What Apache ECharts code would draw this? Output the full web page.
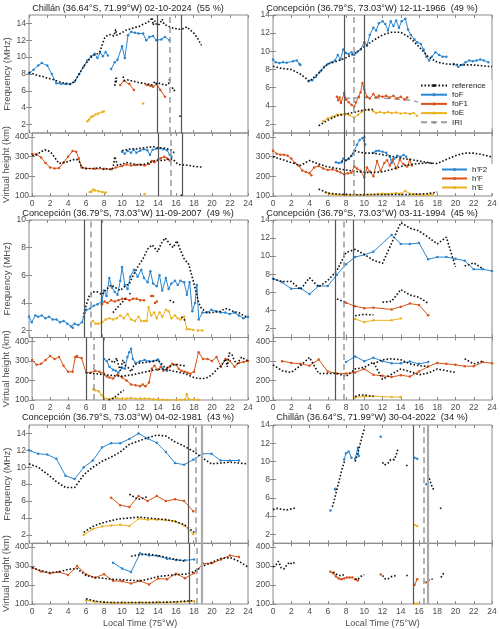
<!DOCTYPE html>
<html><head><meta charset="utf-8">
<script src="https://cdn.jsdelivr.net/npm/echarts@6/dist/echarts.min.js"></script>
<style>html,body{margin:0;padding:0;background:#fff}#c{width:500px;height:629px}</style>
</head><body><div id="c"></div>
<script>
const _ = null; // gap marker
// ---------- shared axis tick labels ----------
const hourTicks = [0,2,4,6,8,10,12,14,16,18,20,22,24];
const freqTicks = [2,4,6,8,10,12,14];
const freqTicks07 = [2,4,6,8,10];
const heightTicks = [100,200,300,400];

// ---------- Panel 1: Chillán 02-10-2024 ----------
const p1Title = 'Chillán (36.64°S, 71.99°W) 02-10-2024  (55 %)';
const p1Events = [14.0, 15.4, 16.7];
const p1Ref = [[0,8.2],[0.5,8.0],[1,7.8],[1.5,7.7],[2,7.5],[2.5,7.4],[3,7.2],[3.5,7.0],[4,6.9],[4.5,6.8],[5,7.1],[5.5,8.0],[6,8.9],[6.5,9.6],[7,10.2],[7.5,10.4],[7.8,10.7],[8.0,11.4],[8.3,12.3],[8.6,12.6],[9.0,12.7],[9.3,12.5],[9.5,13.3],[9.6,12.6],[9.8,12.7],[10.2,12.9],[10.6,13.2],[11,13.3],[11.5,13.5],[12,13.6],[12.5,13.9],[13,14.1],[13.3,14.4],[13.5,14.7],[13.6,13.8],[13.8,14.3],[14.0,13.8],[14.3,13.9],[14.6,14.5],[14.8,13.9],[15.2,13.7],[15.6,13.5],[16,13.4],[16.5,13.3],[17.0,13.4],[17.3,13.6],[17.7,13.2],[18.1,12.8],[18.5,12.2],[18.9,11.4]];
const p1RefF1 = [[9.4,6.6],[9.5,7.5],[9.55,6.9],[9.6,7.6],_,[10.3,7.7],[10.5,7.2],[10.8,7.3],[11.2,7.2],[11.6,7.1],[12,7.0],[12.5,6.9],[13,6.8],[13.5,6.7],[13.8,7.1],[14,6.8],[14.3,6.9],[14.6,6.8],[15,6.7],[15.3,6.8],[15.4,7.4],_,[15.7,6.4],[15.9,6.0],[16.0,6.2],_,[16.55,3.1],[16.6,2.8]];
const p1FoF = [[0,8.1],[0.5,8.5],[1,9.0],[1.4,9.3],[2,9.0],[2.5,8.0],[3,6.9],[3.5,6.85],[4,6.8],[4.5,6.8],[5,7.1],[5.5,8.0],[6,8.9],[6.4,9.6],[6.8,10.1],[7.2,10.4],[7.5,9.9],[7.8,10.5],[8.1,10.1],[8.4,10.6],[8.65,10.2],_,[9.0,8.6],[9.4,9.4],[9.7,9.7],[10.2,11.3],[10.5,9.9],[10.85,12.6],[11.2,13.0],[11.6,12.9],[12,12.8],[12.5,12.8],[12.85,12.0],[13.2,12.4],[13.6,12.5],[13.95,12.0],[14.5,12.1],[14.9,12.4],[15.4,12.0]];
const p1FoF1 = [[10.0,6.7],[10.4,7.2],[11.0,6.8],[11.5,6.1],_,[12.9,6.7],[13.3,6.6],[13.6,6.5],[14.0,6.8],[14.4,6.1],[14.9,5.3]];
const p1FoE = [[6.4,2.4],[6.6,2.6],[6.8,2.9],[7.0,3.0],[7.3,3.2],[7.6,3.3],[8.0,3.5],[8.2,3.55],_,[12.5,4.5]];
const p1RefH = [[0,305],[0.5,310],[1,325],[1.4,335],[1.8,330],[2.2,315],[2.6,290],[3,265],[3.5,270],[4,275],[4.5,285],[5.0,285],[5.3,270],[5.5,245],[6,240],[7,240],[7.5,245],[8,235],[8.5,240],[8.8,232],[9.0,245],[9.2,300],[9.3,290],[9.5,255],[10,262],[10.5,270],[11,265],[11.5,260],[12,258],[12.5,262],[13,268],[13.5,278],[14,282],[14.5,280],[15,285],[15.4,290],[15.7,285],[16,270],[16.3,260],[16.6,258],[17,258],[17.5,255],[18,250],[18.5,248],[18.9,247],_,[16.6,100],[16.65,115]];
const p1RefHF2 = [[10,330],[10.5,335],[11,340],[11.5,338],[12,342],[12.5,345],[13,348],[13.5,350],[14,345],[14.5,345],[15,340],[15.4,335],[15.8,320],[16,315]];
const p1HF2 = [[10,325],[10.3,315],[10.6,330],[11,320],[11.3,335],[11.6,320],[12,330],[12.4,338],[12.8,333],[13.1,310],[13.4,335],[13.8,340],[14.2,342],[14.6,338],[15,333],[15.3,310],[15.5,300]];
const p1HF = [[0,313],[0.5,312],[1,295],[1.5,268],[2,245],[2.5,240],[3,242],[3.5,270],[4,300],[4.5,328],[4.9,325],[5.2,290],[5.5,245],[6,240],[7,238],[8,238],[8.8,236],[9.3,245],[10,252],[10.5,260],[11,255],[11.5,258],[12,260],[12.5,255],[13,262],[13.3,278],[13.6,272],[14,284],[14.3,292],[14.7,300],[15,290],[15.3,280]];
const p1HE = [[6.4,120],[6.6,122],[6.8,133],[7.0,128],[7.4,124],[7.8,120],[8.2,118],_,[12.5,110]];

// ---------- Panel 2: Concepción 12-11-1966 ----------
const p2Title = 'Concepción (36.79°S, 73.03°W) 12-11-1966  (49 %)';
const p2Events = [7.8, 8.9, 10.0];
const p2Ref = [[0,8.35],[1,8.1],[2,8.0],[3,7.5],[4,6.7],[5,7.6],[6,8.6],[7,8.9],[8,9.3],[9,9.8],[10,10.5],[11,11.2],[12,11.8],[13,12.1],[14,12.1],[15,11.5],[16,10.5],[17,9.4],[18,8.8],[19,8.6],[20,8.55],[21,8.5],[22,8.5],[23,8.4],[24,8.3]];
const p2RefE = [[5,1.8],[6,2.4],[7,2.9],[8,3.1],[9,3.3],[10,3.55],[11,3.6]];
const p2Iri = [[7.8,4.8],[9,4.85],[10,4.9],[11,4.9],[12,4.85],[13,4.8],[14,4.7],[15,4.6],[16,4.4],[16.5,4.3]];
const p2FoF = [[0,9.1],[0.3,8.8],[0.7,8.7],[1.1,8.8],[1.5,8.75],[2.2,8.9],[2.6,9.0],[2.9,8.6],[3.0,8.5],_,[3.9,6.7],[4.3,6.8],[4.7,7.2],[5.2,7.8],[5.6,8.3],[6,8.6],[6.4,8.8],[6.8,9.0],[7.1,9.6],[7.4,9.1],[7.7,10.2],[8.0,9.8],[8.3,9.7],[8.6,9.9],[8.9,9.6],[9.2,9.9],[9.6,10.2],[10,11.0],[10.3,10.6],[10.6,11.8],[11,12.6],[11.3,12.3],[11.6,13.1],[12,13.3],[12.3,13.0],[12.6,12.3],[12.9,13.3],[13.2,12.8],[13.5,13.4],[13.8,12.6],[14.1,13.3],[14.5,13.6],[14.8,12.4],[15.1,11.8],[15.5,11.3],[15.8,11.0],[16.2,10.8],[16.5,10.2],[16.8,9.4],[17.1,9.0],[17.4,9.4],[17.8,9.9],[18.2,9.6],[18.6,9.4],[19,9.4],_,[19.8,8.6],[20.3,8.3],[20.7,8.5],[21.1,8.8],[21.5,9.0],[21.9,8.9],[22.3,9.0],[22.7,9.1],[23.1,9.0],[23.6,8.8]];
const p2FoF1 = [[7.0,5.0],[7.15,4.6],[7.3,4.9],[7.45,4.3],[7.8,5.4],[8.0,4.7],[8.3,4.4],[8.6,4.1],[8.9,3.9],[9.1,4.4],[9.4,5.0],[9.6,5.5],[9.8,6.5],[10.0,5.8],[10.3,5.0],[10.6,4.8],[11.0,5.3],[11.3,4.9],[11.6,5.1],[12,5.0],[12.4,5.1],[12.8,4.9],[13.2,5.1],[13.6,4.8],[14,5.0],[14.4,4.7],[14.7,4.9]];
const p2FoE = [[5.5,2.3],[6,2.6],[6.5,2.8],[7,3.0],[7.5,3.05],[8,3.1],[8.4,2.95],[8.9,2.7],[9.3,3.0],[9.7,3.3],[10,3.5],[10.5,3.55],_,[11,3.4],[11.3,3.2],[11.7,3.3],[12.2,3.2],[12.6,3.3],[13,3.2],[13.5,3.25],[14,3.15],[14.5,3.2],[15,3.1],[15.4,3.2],[15.8,2.9],[16.2,2.6],[16.6,2.5],[17,2.2],[17.4,2.1],[17.8,1.9]];
const p2RefH = [[0,300],[1,285],[2,270],[3,255],[4,280],[5,262],[6,248],[7,240],[8,232],[9,225],[10,220],[11,220],[12,222],[13,235],[14,250],[15,260],[16,265],[17,268],[18,265],[19,285],[20,305],[21,318],[22,318],[23,310],[24,298]];
const p2RefHF2 = [[7.5,275],[8,282],[8.5,300],[9,330],[9.5,322],[10,318],[11,318],[12,310],[13,302],[14,292],[15,285],[16,278],[17,270],[17.5,265]];
const p2RefHE = [[5,135],[6,115],[7,110],[8,108],[9,106],[10,107],[11,108],[12,108],[13,108],[14,108],[15,108],[16,110],[17,112],[18,120]];
const p2HF2 = [[6.9,272],[7.2,268],[7.5,270],[7.7,290],[8.0,282],[8.3,288],[8.6,305],[8.9,330],[9.2,360],[9.5,385],[9.8,395],[10.0,398],[10.1,362],_,[11,320],[11.3,328],[11.6,330],[12,325],[12.4,320],[12.8,300],[13.0,268],[13.3,290],[13.6,305],[14,300],[14.3,308],[14.6,300]];
const p2HF = [[0,330],[0.4,315],[0.8,310],[1.2,310],[1.6,305],[2,290],[2.4,268],[2.8,255],[3.2,230],[3.6,222],[4,215],[4.2,205],[4.5,245],[5,252],[5.5,240],[6,232],[6.5,235],[7,228],[7.4,220],[7.8,210],[8.2,215],[8.6,218],[8.9,250],[9.2,240],[9.6,228],[10,195],[10.3,245],[10.6,225],[11,200],[11.4,278],[11.8,228],[12.2,268],[12.5,282],[12.8,255],[13.1,285],[13.5,240],[13.9,283],[14.3,262],[14.7,250],[15,285],[15.2,255]];
const p2HE = [[5.8,118],[6.2,110],[6.6,108],[7,106],[7.5,105],[8,106],[8.5,104],[9,106],[9.5,105],[10,106],[10.5,105],_,[11,108],[11.5,110],[12,112],[12.5,110],[13,112],[13.5,115],[14,112],[14.5,125],[15,112],[15.5,108],[16,106],[16.5,105],[17,106],[17.5,108]];

// ---------- Panel 3: Concepción 11-09-2007 ----------
const p3Title = 'Concepción (36.79°S, 73.03°W) 11-09-2007  (49 %)';
const p3Events = [6.0, 6.8, 7.9];
const p3Ref = [[6.0,3.2],[6.3,3.9],[6.6,4.5],[7.0,4.8],[7.5,4.8],[8.0,4.6],[8.5,5.0],[9,5.3],[9.5,5.1],[10,4.9],[10.5,5.2],[11,5.4],[11.5,6.1],[12,6.7],[12.5,7.2],[13,7.9],[13.5,8.2],[14.1,7.7],[14.5,8.3],[14.9,8.7],[15.5,8.2],[15.8,8.0],[16.2,8.5],[16.6,7.8],[17.0,7.2],[17.5,6.8],[18.0,5.6],[18.3,4.8],[18.6,4.0],[18.9,3.6],[19.5,3.3],[20,3.3],[21,3.4],[21.5,3.6],[22,3.5],[22.5,3.35],[23,3.3],[23.5,3.1],[24,2.95]];
const p3Ref2 = [[9.2,3.3],[9.6,3.6],[10,3.9],[10.4,4.2],[10.7,4.4],_,[11.0,4.7],[11.2,4.6],_,[15.4,4.2],[15.7,4.1],[16.0,4.0],_,[16.7,3.0],[17.0,2.8],[17.2,2.7]];
const p3FoF = [[0,3.0],[0.3,2.6],[0.7,3.1],[1.0,3.0],[1.4,3.1],[1.8,2.9],[2.2,3.0],[2.6,2.8],[3.0,2.8],[3.4,2.6],[3.8,2.7],[4.2,2.5],[4.6,2.3],[4.8,2.2],[5.0,2.5],[5.4,2.4],[5.8,2.6],[6.0,3.0],[6.3,3.5],[6.7,3.6],[7.1,3.8],[7.5,3.9],[8.0,4.1],[8.2,4.9],[8.5,4.5],[8.8,5.8],[9.1,5.1],[9.4,4.8],[9.7,4.6],[10,5.6],[10.2,6.6],[10.5,5.3],[10.8,5.0],[11.1,5.9],[11.5,6.4],[11.9,5.9],[12.3,6.4],[12.6,5.8],[13,5.5],[13.3,6.3],[13.6,5.4],[14,5.2],[14.3,6.0],[14.6,4.9],[15,5.8],[15.3,5.0],[15.6,5.4],[16,5.6],[16.3,5.3],[16.6,5.6],[17,5.5],[17.3,4.6],[17.6,5.5],[17.9,3.4],[18.2,4.0],[18.4,5.3],[18.6,2.8],[19,3.3],[19.5,3.3],[20,3.5],[20.5,3.4],[21,3.3],[21.5,3.3],[22,3.2],[22.5,3.3],[23,3.1],[23.5,2.9],[24,3.0]];
const p3FoF1 = [[8,3.9],[8.3,4.1],[8.6,4.0],[9,4.2],[9.4,4.1],[9.8,4.2],[10.2,4.3],[10.6,4.3],[11,4.2],[11.4,4.3],[11.8,4.3],[12.2,4.2],[12.6,4.2],_,[13.4,4.5],[13.6,4.5],_,[13.8,4.0],[14.0,4.1]];
const p3FoE = [[7,2.7],[7.3,2.5],[7.6,2.5],[8,2.6],[8.4,2.8],[8.8,2.9],[9.2,2.8],[9.6,2.9],[10,3.1],[10.4,2.9],[10.8,3.2],[11.2,2.8],[11.6,2.7],[12,3.0],[12.3,2.7],_,[12.6,2.7],[12.9,2.7],[13.1,3.7],[13.4,3.1],[13.7,3.3],[14,2.9],[14.3,3.3],[14.6,3.0],[15,3.5],[15.3,3.4],[15.6,2.9],[16,3.1],[16.3,2.9],[16.6,2.8],[17,3.0],[17.3,2.1],[17.6,2.1],[18,2.05],_,[18.5,2.0],[19,2.0]];
const p3RefH = [[6,240],[7,235],[8,230],[9,225],[10,222],[11,228],[12,238],[13,248],[14,258],[15,255],[16,245],[17,235],[18,215],[18.5,210],[19,210],[19.5,215],[20,230],[20.5,255],[21,275],[21.5,310],[21.7,270],[21.9,340],[22.2,335],[22.5,300],[22.8,285],[23,300],[23.3,320],[23.6,310],[24,300]];
const p3RefH2 = [[8.5,310],[8.8,300],[9.1,290],[9.4,315],[9.6,280],[9.8,250],[10.1,305],[10.4,275],[10.7,265],[11,245],[11.3,275],[11.6,285],[12,290],[12.5,292],[13,295],[13.5,298],[14,305],[14.3,290],[14.7,270],[15,265],[15.5,278],[16,282],[16.5,278],[17,275]];
const p3RefHE = [[8.5,100],[9,108],[9.5,125],[10,145],[10.2,150]];
const p3HF2 = [[8.0,310],[8.3,300],[8.6,270],[9,255],[9.3,250],[9.6,240],[10,265],[10.3,260],[10.6,320],[10.8,345],[11,362],[11.2,310],[11.5,290],[12,298],[12.5,305],[13,298],[13.5,300],[14,308],[14.5,262],[15,250]];
const p3HF = [[0,305],[0.5,280],[1,285],[1.5,305],[2,325],[2.5,310],[3,320],[3.5,275],[4,245],[4.5,245],[4.8,320],[5,325],[5.5,315],[6,240],[6.5,240],[7,250],[7.5,245],[8,235],[8.3,220],[8.6,215],[9,210],[9.5,230],[10,215],[10.5,200],[11,180],[11.5,175],[12,170],[12.3,180],[12.6,170],[13,190],[13.3,260],[13.6,275],[14,255],[14.3,270],[14.6,250],[15,260],[15.3,270],[15.6,285],[16,280],[16.3,260],[16.6,250],[17,245],[17.3,240],[17.6,235],[18,245],[18.5,345],[19,310],[19.5,310],[20,300],[20.5,320],[21,270],[21.5,310],[22,300],[22.5,270],[23,290],[23.5,295],[24,300]];
const p3HE = [[6.8,155],[7.0,150],[7.4,145],[7.7,125],[8,110],[8.5,105],[9,110],[9.5,108],[10,105],[10.5,108],[11,110],[11.5,107],[12,105],[12.5,108],[13,106],[13.5,104],[14,102],[14.5,101],[15,100],[16,100],[16.5,101],[17,102],[17.2,130],[17.4,105],[18,102],[18.5,101]];

// ---------- Panel 4: Concepción 03-11-1994 ----------
const p4Title = 'Concepción (36.79°S, 73.03°W) 03-11-1994  (45 %)';
const p4Events = [6.8, 7.8, 8.8];
const p4Ref = [[0,7.5],[1,7.2],[2,7.2],[3,6.3],[4,7.6],[5,6.6],[6,7.3],[7,8.4],[8,10.4],[9,10.75],[10,10.2],[11,9.55],[12,9.2],[14,13.7],[15,13.1],[16,12.8],[17,12.1],[18,11.35],[19,12.1],[20,8.8],_,[21,8.9],[22,9.25],[23,8.6]];
const p4RefF1 = [[7,5.25],[8,4.9],_,[12,4.9],[13,5.0],[14,6.3],[15,5.7],[16,5.45],[17,4.8]];
const p4RefE = [[9,3.4],[10,3.55],[11,3.5]];
const p4FoF = [[0,7.5],[1,7.1],[2,6.4],[3,6.45],[4,5.8],[5,6.7],[6,6.7],[7,7.95],[8,9.1],[9,9.9],[10,10.15],[11,10.5],[13,12.35],[14,11.35],[15,11.35],[16,11.45],[17,9.65],[18,9.9],[19,9.9],[20,9.7],[21,9.5],[22,8.55],[23,8.55],[24,8.35]];
const p4FoF1 = [[8,4.85],[9,4.45],[10,4.25],[11,4.3],[13,4.1],[14,4.4],[15,4.75],[16,4.6],[17,3.45]];
const p4FoE = [[9,3.05],[10,2.7],[11,2.9],[13,2.9],[14,3.1]];
const p4RefH = [[0,280],[1,250],[2,241],[3,276],[4,318],[5,236],[6,236],[7,236],[8,220],[9,259],[10,267],[11,294],[12,206],[13,232],[14,259],[15,246],[16,229],[17,238],[18,259],[19,250],[20,241]];
const p4RefH2 = [[11,285],[12,306],[13,311],[14,306],[15,285],[16,276],[17,271],_,[21,311],[22,285],[23,299]];
const p4RefHE = [[9,118],[9.5,125],[10,126],[10.5,122],[11,118]];
const p4HF2 = [[8,294],[9,323],[10,299],[11,316],[12,299],[13,288],[14,288],[15,297],[16,285],[17,294]];
const p4HF = [[1,299],[2,290],[3,285],[4,276],[5,307],[6,246],[7,236],[8,236],[9,241],[10,259],[11,229],[12,224],[13,218],[14,227],[15,220],[16,246],[17,271],[18,290],[19,285],[20,280],[21,273],[22,273],[23,294],[24,288]];
const p4HE = [[9,113],[10,118],[11,120],[13,115],[14,115]];

// ---------- Panel 5: Concepción 04-02-1981 ----------
const p5Title = 'Concepción (36.79°S, 73.03°W) 04-02-1981  (43 %)';
const p5Events = [17.5, 18.3, 18.9];
const p5Ref = [[0,10.4],[1,10.0],[2,9.2],[3,8.3],[4,7.6],[5,7.6],[6,9.1],[7,10.0],[8,10.7],[9,11.2],[10,11.8],[11,12.7],[12,13.1],[13,13.5],[14,13.8],[15,13.7],[16,13.0],[17,12.5],[18,11.9],[19,11.1],[20,10.4],[21,10.5],[22,10.6],[23,10.5],[24,10.4]];
const p5RefF1 = [[11,6.8],[12,6.2],[13,6.5]];
const p5RefE = [[6,2.3],[7,3.0],[8,3.4],[9,3.7],[10,3.9],[11,4.0],[12,4.1],[13,4.0],[14,3.9],[15,3.8],[16,3.6],[17,3.2],[18,2.4],[18.3,2.1]];
const p5FoF = [[0,12.0],[1,11.6],[2,11.5],[3,11.0],[4,9.0],[5,8.6],[6,10.0],[7,10.8],[8,12.35],[9,12.85],[10,12.85],[11,13.35],[12,14.0],[13,13.4],[14,12.9],[15,11.8],[16,10.5],[17,10.3],[18,10.9],[19,11.6],[20,11.6],[21,10.8],[22,10.8],[23,10.8]];
const p5FoF1 = [[9,6.4],[10,5.5],[11,5.3],[12,6.6],[13,6.0],[14,6.6],[15,6.0],[16,6.2],[17,6.0],[18,4.8]];
const p5FoE = [[6,2.0],[7,2.7],[8,3.0],[9,3.1],[10,3.2],[11,3.05],[12,3.9],[13,3.8],[14,3.8],[15,3.75],[16,3.6],[17,3.1],[18,2.1]];
const p5RefH = [[0,292],[1,275],[2,265],[3,270],[4,282],[5,287],[6,250],[7,240],[8,235],[9,230],[10,228],[11,225],[12,222],[13,232],[14,245],[15,250],[16,255],[17,257],[18,270],[19,300],[20,320],[21,340],[22,345],[23,325],[24,295]];
const p5RefH2 = [[11,352],[12,360],[13,363],[14,355],[15,345],[16,335],[17,325]];
const p5RefHE = [[6,128],[7,115],[8,110],[9,108],[10,108],[11,108],[12,108],[13,108],[14,109],[15,110],[16,112],[17,115],[18,118]];
const p5HF2 = [[9,318],[10,287],[11,269],[12,367],[13,356],[14,353],[15,339],[16,332],[17,330],[18,335]];
const p5HF = [[0,292],[1,271],[2,262],[3,269],[4,253],[5,300],[6,257],[7,239],[8,257],[9,222],[10,220],[11,208],[12,222],[13,203],[14,234],[15,231],[16,260],[17,236],[18,262],[19,313],[20,315],[21,335],[22,356],[23,348]];
const p5HE = [[6,120],[7,112],[8,108],[9,106],[10,106],[11,106],[12,108],[13,107],[14,108],[15,108],[16,110],[17,112],[18,115]];

// ---------- Panel 6: Chillán 30-04-2022 ----------
const p6Title = 'Chillán (36.64°S, 71.99°W) 30-04-2022  (34 %)';
const p6Events = [15.4, 16.5, 17.0];
const p6Ref = [[0,4.7],[0.3,4.8],[0.6,4.85],[0.9,4.75],[1.2,4.7],[1.5,4.65],[1.8,4.75],[2.1,4.8],[2.5,4.9],_,[6.5,5.0],[6.7,5.7],[6.9,6.5],[7.1,7.3],[7.3,8.1],[7.5,8.9],[7.7,9.6],[7.9,10.2],_,[9.0,10.0],[9.2,10.6],[9.4,11.3],[9.6,12.1],[9.8,12.9],[10.0,13.5],_,[12.0,9.9],[12.2,9.6],[12.4,9.4],[12.6,9.8],[12.9,10.2],[13.1,10.4],[13.3,10.2],[13.5,10.7],[13.7,11.4],_,[14.6,9.5],[14.9,9.7],_,[17.0,8.5],[17.2,7.9],[17.4,7.3],[17.6,6.9],_,[18.3,4.9],[18.6,4.7]];
const p6FoF = [[6.3,4.6],_,[6.8,6.9],[6.85,7.0],_,[7.8,10.2],[8.0,10.9],[8.3,11.1],[8.6,10.4],_,[9.0,10.3],[9.3,11.5],[9.4,10.6],_,[11.8,12.7],_,[15.5,10.4],[15.8,10.3],_,[16.8,7.5]];
const p6FoE = [[15.5,3.0],[15.8,2.9]];
const p6RefH = [[0,295],[0.3,305],[0.6,325],[0.9,290],[1.2,285],[1.5,305],[1.8,320],[2.1,310],[2.5,325],_,[6.6,270],[6.9,258],[7.2,250],[7.5,250],[7.8,255],_,[9.0,232],[9.3,228],[9.6,245],[10,255],_,[12.0,250],[12.3,232],[12.6,232],[13,245],[13.3,248],[13.6,252],_,[14.6,250],[14.9,250],_,[17.0,225],[17.3,230],[17.5,232],_,[18.4,240],[18.6,250],[18.8,270]];
const p6HF = [[6.3,270],[6.6,262],[6.9,245],[7.2,235],[7.5,230],[7.8,235],[8.1,240],[8.4,240],[8.7,240],_,[9.0,230],[9.3,224],_,[11.8,255],_,[15.5,200],[15.8,230],_,[16.8,215]];
const p6HE = [[15.5,103],[15.8,103]];

// ---------- layout / style ----------
const BLUE = '#2b86cf', ORANGE = '#D95319', YELLOW = '#EDB120';
const BOX = '#8a8a8a', LABEL = '#4d4d4d';
const COLS = [29, 273], GW = 219;
const ROWS = [
  {ft: 15, fh: 118, ht: 133, hh: 63, title: 8},
  {ft: 220, fh: 117.5, ht: 337.5, hh: 62.5, title: 213.5},
  {ft: 425, fh: 118.3, ht: 543.3, hh: 61.7, title: 417}
];
const TITLE_X = [128, 372];

function fix(a) { return a.map(p => p === null ? ['-', '-'] : p); }

const panels = [
  {title: p1Title, col: 0, row: 0, fr: [1, 15], ft: freqTicks, ev: p1Events, third: 'dark',
   freq: [['ref','reference',p1Ref],['ref','reference',p1RefF1],['obs','foF',p1FoF,BLUE],['obs','foF1',p1FoF1,ORANGE],['obs','foE',p1FoE,YELLOW]],
   hgt: [['ref','ref',p1RefH],['ref','ref',p1RefHF2],['obs',"h'F2",p1HF2,BLUE],['obs',"h'F",p1HF,ORANGE],['obs',"h'E",p1HE,YELLOW]]},
  {title: p2Title, col: 1, row: 0, fr: [1, 14], ft: freqTicks, ev: p2Events, third: 'dark',
   freq: [['ref','reference',p2Ref],['ref','reference',p2RefE],['obs','foF',p2FoF,BLUE],['obs','foF1',p2FoF1,ORANGE],['obs','foE',p2FoE,YELLOW],['iri','IRI',p2Iri]],
   hgt: [['ref','ref',p2RefH],['ref','ref',p2RefHF2],['ref','ref',p2RefHE],['obs',"h'F2",p2HF2,BLUE],['obs',"h'F",p2HF,ORANGE],['obs',"h'E",p2HE,YELLOW]]},
  {title: p3Title, col: 0, row: 1, fr: [1.5, 10], ft: freqTicks07, ev: p3Events, third: 'dark',
   freq: [['ref','reference',p3Ref],['ref','reference',p3Ref2],['obs','foF',p3FoF,BLUE],['obs','foF1',p3FoF1,ORANGE],['obs','foE',p3FoE,YELLOW]],
   hgt: [['ref','ref',p3RefH],['ref','ref',p3RefH2],['ref','ref',p3RefHE],['obs',"h'F2",p3HF2,BLUE],['obs',"h'F",p3HF,ORANGE],['obs',"h'E",p3HE,YELLOW]]},
  {title: p4Title, col: 1, row: 1, fr: [1, 14], ft: freqTicks, ev: p4Events, third: 'dark',
   freq: [['ref','reference',p4Ref],['ref','reference',p4RefF1],['ref','reference',p4RefE],['obs','foF',p4FoF,BLUE],['obs','foF1',p4FoF1,ORANGE],['obs','foE',p4FoE,YELLOW]],
   hgt: [['ref','ref',p4RefH],['ref','ref',p4RefH2],['ref','ref',p4RefHE],['obs',"h'F2",p4HF2,BLUE],['obs',"h'F",p4HF,ORANGE],['obs',"h'E",p4HE,YELLOW]]},
  {title: p5Title, col: 0, row: 2, fr: [1, 15], ft: freqTicks, ev: p5Events, third: 'light',
   freq: [['ref','reference',p5Ref],['ref','reference',p5RefF1],['ref','reference',p5RefE],['obs','foF',p5FoF,BLUE],['obs','foF1',p5FoF1,ORANGE],['obs','foE',p5FoE,YELLOW]],
   hgt: [['ref','ref',p5RefH],['ref','ref',p5RefH2],['ref','ref',p5RefHE],['obs',"h'F2",p5HF2,BLUE],['obs',"h'F",p5HF,ORANGE],['obs',"h'E",p5HE,YELLOW]]},
  {title: p6Title, col: 1, row: 2, fr: [1, 14], ft: freqTicks, ev: p6Events, third: 'light',
   freq: [['ref','reference',p6Ref],['obs','foF',p6FoF,BLUE],['obs','foE',p6FoE,YELLOW]],
   hgt: [['ref','ref',p6RefH],['obs',"h'F",p6HF,ORANGE],['obs',"h'E",p6HE,YELLOW]]}
];

const grid = [], xAxis = [], yAxis = [], series = [], graphic = [];
const tickStyle = {show: true, inside: true, length: 3, lineStyle: {color: BOX, width: 1}};
const NG = panels.length * 2;
const FONT = 'Liberation Sans, Arial, sans-serif';

function makeSeries(spec, gi) {
  const [kind, name, data, color] = spec;
  const base = {name, type: 'line', xAxisIndex: gi, yAxisIndex: gi, data: fix(data),
    connectNulls: false, animation: false, silent: true, clip: true};
  if (kind === 'ref') {
    return Object.assign(base, {showSymbol: false, symbol: 'none', z: 3, color: '#111',
      lineStyle: {color: '#111', width: 1.6, type: [1.6, 1.9]}});
  } else if (kind === 'iri') {
    return Object.assign(base, {showSymbol: false, symbol: 'none', z: 2, color: '#9a9a9a',
      lineStyle: {color: '#9a9a9a', width: 1.5, type: [6, 4]}});
  }
  return Object.assign(base, {showSymbol: true, showAllSymbol: true, symbol: 'circle', symbolSize: 2.5,
    z: 2, color, itemStyle: {color}, lineStyle: {color, width: 1}});
}

function eventLines(ev, third) {
  const solid = {color: '#555', width: 1.2, type: 'solid'};
  const dash = {color: '#999', width: 1.5, type: [6, 4]};
  const last = third === 'light' ? {color: '#aaa', width: 2.2, type: 'solid'} : solid;
  return {silent: true, symbol: 'none', label: {show: false}, animation: false,
    data: [{xAxis: ev[0], lineStyle: solid}, {xAxis: ev[1], lineStyle: dash}, {xAxis: ev[2], lineStyle: last}]};
}

panels.forEach((p, i) => {
  const r = ROWS[p.row], left = COLS[p.col];
  const gF = 2 * i, gH = 2 * i + 1;
  grid[gF] = {left, top: r.ft, width: GW, height: r.fh, show: true, borderColor: BOX, borderWidth: 1, backgroundColor: 'transparent'};
  grid[gH] = {left, top: r.ht, width: GW, height: r.hh, show: true, borderColor: BOX, borderWidth: 1, backgroundColor: 'transparent'};
  [gF, gH].forEach(g => {
    const isH = g === gH;
    xAxis[g] = {gridIndex: g, type: 'value', min: 0, max: 24, interval: 2,
      axisLine: {show: false}, splitLine: {show: false}, axisTick: tickStyle,
      axisLabel: {show: isH, fontSize: 8.5, color: LABEL, margin: 3, fontFamily: FONT, customValues: hourTicks}};
    if (isH && p.row === 2) {
      Object.assign(xAxis[g], {name: 'Local Time (75°W)', nameLocation: 'middle', nameGap: 15,
        nameTextStyle: {fontSize: 9, color: LABEL, fontFamily: FONT}});
    }
    xAxis[NG + g] = {gridIndex: g, type: 'value', min: 0, max: 24, interval: 2, position: 'top',
      axisLine: {show: false}, splitLine: {show: false}, axisTick: tickStyle, axisLabel: {show: false}};
    const ticks = isH ? heightTicks : p.ft;
    const rng = isH ? [100, 420] : p.fr;
    yAxis[g] = {gridIndex: g, type: 'value', min: rng[0], max: rng[1],
      axisLine: {show: false}, splitLine: {show: false},
      axisTick: Object.assign({}, tickStyle, {customValues: ticks}),
      axisLabel: {fontSize: 8.5, color: LABEL, margin: 3, customValues: ticks, fontFamily: FONT}};
    if (p.col === 0) {
      Object.assign(yAxis[g], {name: isH ? 'Virtual height (km)' : 'Frequency (MHz)', nameLocation: 'middle',
        nameGap: isH ? 20 : 17, nameTextStyle: {fontSize: 9.5, color: LABEL, fontFamily: FONT}});
    }
    yAxis[NG + g] = {gridIndex: g, type: 'value', min: rng[0], max: rng[1], position: 'right',
      axisLine: {show: false}, splitLine: {show: false},
      axisTick: Object.assign({}, tickStyle, {customValues: ticks}), axisLabel: {show: false}};
  });
  p.freq.forEach((s, k) => {
    const ser = makeSeries(s, gF);
    if (k === 0) ser.markLine = eventLines(p.ev, p.third);
    series.push(ser);
  });
  p.hgt.forEach((s, k) => {
    const ser = makeSeries(s, gH);
    if (k === 0) ser.markLine = eventLines(p.ev, p.third);
    series.push(ser);
  });
  graphic.push({type: 'text', x: TITLE_X[p.col], y: r.title, silent: true,
    style: {text: p.title, textAlign: 'center', textVerticalAlign: 'middle', fill: '#222',
      font: '9.2px "Liberation Sans", Arial, sans-serif'}});
});

const legendText = {fontSize: 8, color: '#222', lineHeight: 9, fontFamily: FONT};
const option = {
  animation: false,
  backgroundColor: '#fff',
  grid, xAxis, yAxis, series, graphic,
  legend: [
    {data: ['reference', 'foF', 'foF1', 'foE', 'IRI'], orient: 'vertical', left: 418, top: 80,
      itemWidth: 26, itemHeight: 4, itemGap: 0.2, padding: [1, 6, 1, 2], backgroundColor: '#fff',
      selectedMode: false, textStyle: legendText},
    {data: ["h'F2", "h'F", "h'E"], orient: 'vertical', left: 439, top: 164,
      itemWidth: 25, itemHeight: 4, itemGap: 0, padding: [1, 6, 1, 2], backgroundColor: '#fff',
      selectedMode: false, textStyle: legendText}
  ]
};
const chart = echarts.init(document.getElementById('c'), null, {renderer: 'canvas'});
chart.setOption(option);
</script></body></html>
